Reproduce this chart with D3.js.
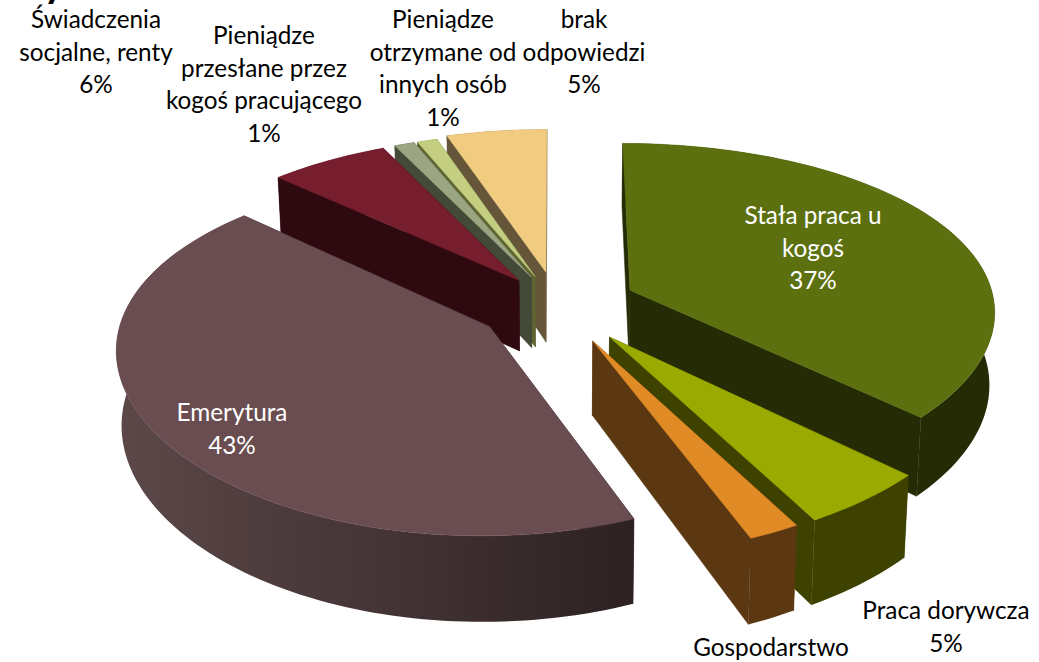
<!DOCTYPE html>
<html>
<head>
<meta charset="utf-8">
<script src="https://cdn.jsdelivr.net/npm/d3@7"></script>
<style>
html, body { margin: 0; padding: 0; background: #fff; overflow: hidden; }
svg { display: block; }
text { font-family: Lato, "Open Sans", sans-serif; font-size: 24.3px; text-anchor: middle; }
</style>
</head>
<body>
<svg class="pie-chart"></svg>
<script>
'use strict';

var categories = ['Stała praca u kogoś', 'Praca dorywcza', 'Gospodarstwo', 'Emerytura', 'Świadczenia socjalne, renty',
    'Pieniądze przesłane przez kogoś pracującego', 'Pieniądze otrzymane od innych osób', 'brak odpowiedzi'];
var values = [37, 5, 2, 43, 6, 1, 1, 5];
var explode = [0.22, 0.23, 0.225, 0.22, 0.18, 0.18, 0.18, 0.2];
var topColors = ['#5d7010', '#9aaa00', '#e08b25', '#6a4d50', '#771e2e', '#9aa582', '#c4ce80', '#f0cb80'];
var wallColors = ['#252b05', '#3e4200', '#5c3812', '#2d2122', '#2e0a10', '#444a38', '#5f6530', '#65563a'];
var labelLines = [['Stała praca u', 'kogoś'], ['Praca dorywcza'], ['Gospodarstwo'], ['Emerytura'], ['Świadczenia', 'socjalne, renty'],
    ['Pieniądze', 'przesłane przez', 'kogoś pracującego'], ['Pieniądze', 'otrzymane od', 'innych osób'], ['brak', 'odpowiedzi']];
var labelAt = [[813, 224], [946, 619], [771, 656], [232, 421], [96, 28], [264, 44], [443, 28], [584, 28]];

var svgWidth = 1039,
    svgHeight = 662,
    lineGap = 32.5,
    wallHeight = 72,
    depthX = 9,
    depthY = 6.9;

var svg = d3.select('svg.pie-chart')
    .attr('width', svgWidth)
    .attr('height', svgHeight);

var defs = svg.append('defs');

var xScale = d3.scaleLinear().domain([-1, 1]).range([557 - 365, 557 + 365]);
var yScale = d3.scaleLinear().domain([-1, 1]).range([305 - 172, 305 + 172]);

var pie = d3.pie().sort(null).value(function(d) { return d; })
    .startAngle(0).endAngle(2 * Math.PI);

// x w prawo, y do widza, z = 0 gora, z = 1 dol
var project = function(x, y, z) {
    var sx = depthX / (depthX - y),
        sy = depthY / (depthY - y),
        shrink = 1 - 0.012 * z;
    return [
        xScale(0) + (xScale(x) - xScale(0)) * sx * shrink,
        yScale(0) + (yScale(y) - yScale(0)) * sy + wallHeight * sy * z
    ];
};

var line = d3.line();

var arcPoints = function(d, i, z) {
    var mid = (d.startAngle + d.endAngle) / 2,
        ox = explode[i] * Math.sin(mid),
        oy = -explode[i] * Math.cos(mid),
        n = Math.max(4, Math.ceil((d.endAngle - d.startAngle) * 40));
    return d3.range(n + 1).map(function(k) {
        var a = d.startAngle + (d.endAngle - d.startAngle) * k / n;
        return project(ox + Math.sin(a), oy - Math.cos(a), z);
    });
};

var apexPoint = function(d, i, z) {
    var mid = (d.startAngle + d.endAngle) / 2;
    return project(explode[i] * Math.sin(mid), -explode[i] * Math.cos(mid), z);
};

var drawSlice = function(d, i) {
    var g = svg.append('g').attr('class', 'slice'),
        top = arcPoints(d, i, 0),
        bottom = arcPoints(d, i, 1),
        apexTop = apexPoint(d, i, 0),
        apexBottom = apexPoint(d, i, 1);

    var gradId = 'wall-' + i;
    var grad = defs.append('linearGradient').attr('id', gradId)
        .attr('gradientUnits', 'userSpaceOnUse')
        .attr('x1', d3.min(top, function(p) { return p[0]; }))
        .attr('x2', d3.max(top, function(p) { return p[0]; }));
    grad.append('stop').attr('offset', 0).attr('stop-color', i === 3 ? '#5c4849' : wallColors[i]);
    grad.append('stop').attr('offset', 1).attr('stop-color', wallColors[i]);

    // sciany promieniowe
    [[top[0], bottom[0]], [top[top.length - 1], bottom[bottom.length - 1]]].forEach(function(edge) {
        g.append('path')
            .attr('d', line([apexTop, edge[0], edge[1], apexBottom]) + 'Z')
            .attr('fill', wallColors[i])
            .attr('stroke', wallColors[i])
            .attr('stroke-width', 0.5);
    });

    // sciana zewnetrzna
    g.append('path')
        .attr('d', line(top.concat(bottom.slice().reverse())) + 'Z')
        .attr('fill', 'url(#' + gradId + ')');

    // wierzch
    g.append('path')
        .attr('d', line([apexTop].concat(top)) + 'Z')
        .attr('fill', topColors[i])
        .attr('stroke', topColors[i])
        .attr('stroke-width', 0.5);
};

var arcs = pie(values);

// od tylu do przodu
[7, 6, 5, 4, 0, 3, 1, 2].forEach(function(i) {
    drawSlice(arcs[i], i);
});

values.forEach(function(v, i) {
    // procent pod "Gospodarstwo" jest poza kadrem
    var lines = i === 2 ? labelLines[i] : labelLines[i].concat(v + '%');
    var t = svg.append('text')
        .attr('fill', (i === 0 || i === 3) ? '#fff' : '#000');
    lines.forEach(function(s, k) {
        t.append('tspan')
            .attr('x', labelAt[i][0])
            .attr('y', labelAt[i][1] + k * lineGap)
            .text(s);
    });
});

// tytul ucieta gora kadru
svg.append('text')
    .attr('x', 54)
    .attr('y', -3)
    .style('font-size', '40px')
    .style('font-weight', 'bold')
    .text('y');
</script>
</body>
</html>
